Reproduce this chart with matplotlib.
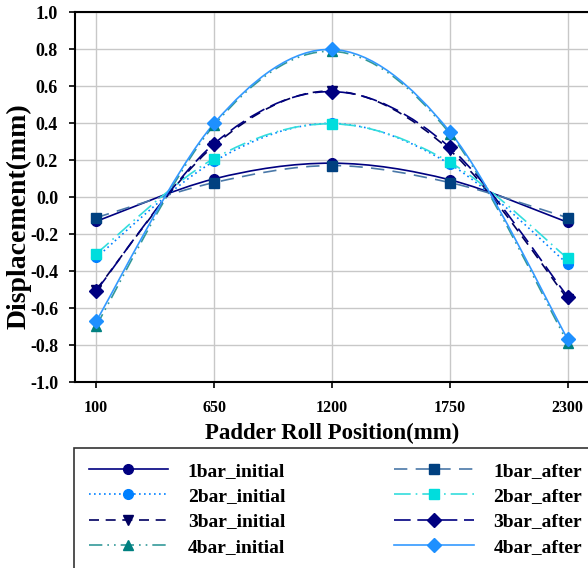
import matplotlib
matplotlib.use("Agg")
import matplotlib.pyplot as plt
from matplotlib.path import Path
from matplotlib.patches import PathPatch
from matplotlib.lines import Line2D

plt.rcParams['font.family'] = ['Liberation Serif', 'DejaVu Serif']
plt.rcParams['font.weight'] = 'bold'

positions = [100, 650, 1200, 1750, 2300]

bar1_initial = [-0.13, 0.10, 0.185, 0.095, -0.135]
bar2_initial = [-0.325, 0.195, 0.40, 0.18, -0.36]
bar3_initial = [-0.50, 0.28, 0.575, 0.255, -0.55]
bar4_initial = [-0.695, 0.39, 0.79, 0.345, -0.785]
bar1_after = [-0.11, 0.08, 0.172, 0.08, -0.11]
bar2_after = [-0.305, 0.21, 0.398, 0.19, -0.33]
bar3_after = [-0.505, 0.29, 0.572, 0.27, -0.537]
bar4_after = [-0.67, 0.40, 0.80, 0.355, -0.767]

labels = ['1bar_initial', '2bar_initial', '3bar_initial', '4bar_initial',
          '1bar_after', '2bar_after', '3bar_after', '4bar_after']
series = [bar1_initial, bar2_initial, bar3_initial, bar4_initial,
          bar1_after, bar2_after, bar3_after, bar4_after]
line_colors = ['#000080', '#0080FF', '#000060', '#339999',
               '#4A78A8', '#33DDDD', '#000080', '#3399FF']
marker_colors = ['#000080', '#0080FF', '#000060', '#008080',
                 '#004080', '#00DDDD', '#000080', '#1E90FF']
markers = ['o', 'o', 'v', '^', 's', 's', 'D', 'D']
styles = ['-', (0, (1, 2)), (0, (6, 4)), (0, (8, 3, 1, 3, 1, 3)),
          (0, (8, 5)), (0, (10, 3, 1, 3)), (0, (10, 4)), '-']


def smooth_path(xs, ys):
    # bezier segments like spreadsheet "smoothed line"
    pts = list(zip(xs, ys))
    n = len(pts)
    verts = [pts[0]]
    codes = [Path.MOVETO]
    for i in range(n - 1):
        p0 = pts[max(i - 1, 0)]
        p1 = pts[i]
        p2 = pts[i + 1]
        p3 = pts[min(i + 2, n - 1)]
        c1 = (p1[0] + (p2[0] - p0[0]) / 6, p1[1] + (p2[1] - p0[1]) / 6)
        c2 = (p2[0] - (p3[0] - p1[0]) / 6, p2[1] - (p3[1] - p1[1]) / 6)
        verts += [c1, c2, p2]
        codes += [Path.CURVE4] * 3
    return Path(verts, codes)


fig = plt.figure(figsize=(5.88, 5.68), dpi=100)
ax = fig.add_axes([0.127, 0.327, 0.875, 0.651])

handles = []
for lab, ys, lc, mc, mk, ls in zip(labels, series, line_colors, marker_colors, markers, styles):
    patch = PathPatch(smooth_path(positions, ys), fill=False, edgecolor=lc,
                      linewidth=1.2, linestyle=ls, zorder=3)
    ax.add_patch(patch)
    ax.plot(positions, ys, linestyle='none', marker=mk, color=mc,
            markersize=7, zorder=4)
    handles.append(Line2D([], [], color=lc, linestyle=ls, linewidth=1.2,
                          marker=mk, markerfacecolor=mc, markeredgecolor=mc,
                          markersize=7, label=lab))

ax.set_xlim(0, 2400)
ax.set_ylim(-1.0, 1.0)
ax.set_xticks(positions)
ax.set_xticklabels([str(p) for p in positions])
ax.set_yticks([-1.0, -0.8, -0.6, -0.4, -0.2, 0.0, 0.2, 0.4, 0.6, 0.8, 1.0])
ax.set_yticklabels(['%.1f' % v for v in ax.get_yticks()])
ax.grid(True, color='#C8C8C8', linewidth=1.0)
ax.set_axisbelow(True)
ax.tick_params(axis='both', direction='out', length=4, width=1.2, colors='black')
ax.tick_params(axis='x', labelsize=11.5, pad=9)
ax.tick_params(axis='y', labelsize=13, pad=8)
for s in ['left', 'bottom', 'top']:
    ax.spines[s].set_linewidth(1.5)
ax.spines['right'].set_visible(False)

ax.set_xlabel('Padder Roll Position(mm)', fontsize=16.5, fontweight='bold')
ax.set_ylabel('Displacement(mm)', fontsize=20, fontweight='bold')
ax.xaxis.set_label_coords(0.5, -0.11)
ax.yaxis.set_label_coords(-0.083, 0.45)

leg = fig.legend(handles=handles, ncol=2, loc='upper left',
                 bbox_to_anchor=(74 / 588, 1 - 447.5 / 568),
                 prop={'size': 14, 'weight': 'bold'},
                 handlelength=4.1, handletextpad=1.0, columnspacing=5.6,
                 labelspacing=0.4, frameon=True, fancybox=False,
                 borderaxespad=0, borderpad=0.75)
leg.get_frame().set_edgecolor('black')
leg.get_frame().set_linewidth(1.2)

fig.savefig('out.png', dpi=100)
